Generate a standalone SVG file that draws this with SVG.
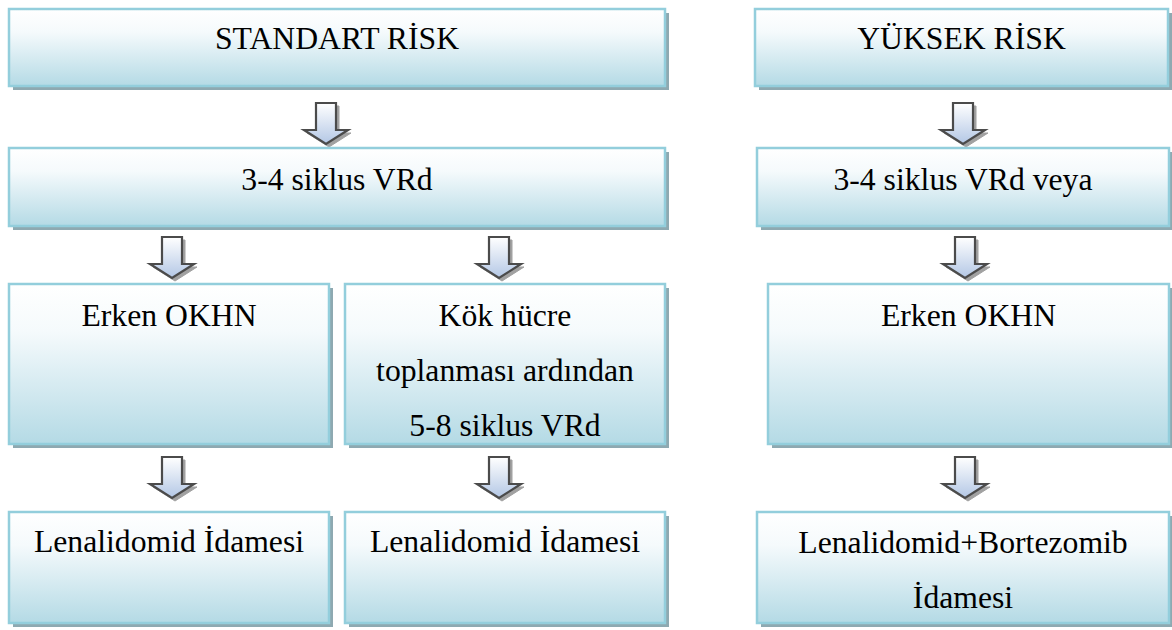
<svg xmlns="http://www.w3.org/2000/svg" xmlns:xlink="http://www.w3.org/1999/xlink" width="1172" height="630" viewBox="0 0 1172 630">
  <defs>
    <linearGradient id="boxGrad" x1="0" y1="0" x2="0" y2="1">
      <stop offset="0" stop-color="#ffffff"/>
      <stop offset="0.3" stop-color="#f5fafc"/>
      <stop offset="1" stop-color="#b4dae5"/>
    </linearGradient>
    <linearGradient id="arrowGrad" x1="0" y1="0" x2="0" y2="1">
      <stop offset="0" stop-color="#ffffff"/>
      <stop offset="1" stop-color="#b3c7e5"/>
    </linearGradient>
    <path id="arrowShape" d="M -10 0 L 10 0 L 10 27 L 22 27 L 0 41 L -22 27 L -10 27 Z"/>
    <g id="arrow">
      <use xlink:href="#arrowShape" transform="translate(3,3)" fill="#8a8a8a" stroke="#8a8a8a" stroke-width="1" opacity="0.8"/>
      <use xlink:href="#arrowShape" fill="url(#arrowGrad)" stroke="#4b4b4b" stroke-width="2.2" stroke-linejoin="miter"/>
    </g>
  </defs>
  <style>
    .shadow { fill: #8ea9b1; }
    .box { fill: url(#boxGrad); stroke: #93cedc; stroke-width: 2.5; }
    .label { font-size: 31.7px; fill: #000000; text-anchor: middle; }
  </style>

  <g id="connectors">
    <use xlink:href="#arrow" transform="translate(326,103)"/>
    <use xlink:href="#arrow" transform="translate(172,237)"/>
    <use xlink:href="#arrow" transform="translate(499,237)"/>
    <use xlink:href="#arrow" transform="translate(172,457)"/>
    <use xlink:href="#arrow" transform="translate(499,457)"/>
    <use xlink:href="#arrow" transform="translate(963,103)"/>
    <use xlink:href="#arrow" transform="translate(965,237)"/>
    <use xlink:href="#arrow" transform="translate(965,457)"/>
  </g>

  <g id="nodes" font-family="'Liberation Serif', serif">
  <g id="standart-risk">
    <rect class="shadow" x="13" y="13" width="656" height="77"/>
    <rect class="box" x="9" y="9" width="656" height="77"/>
    <text class="label" x="337" y="49">STANDART RİSK</text>
  </g>

  <g id="yuksek-risk">
    <rect class="shadow" x="759" y="13" width="413" height="77"/>
    <rect class="box" x="755" y="9" width="413" height="77"/>
    <text class="label" x="961.5" y="49">YÜKSEK RİSK</text>
  </g>

  <g id="vrd-standart">
    <rect class="shadow" x="13" y="152" width="656" height="78"/>
    <rect class="box" x="9" y="148" width="656" height="78"/>
    <text class="label" x="337" y="190">3-4 siklus VRd</text>
  </g>

  <g id="vrd-yuksek">
    <rect class="shadow" x="761" y="152" width="412" height="78"/>
    <rect class="box" x="757" y="148" width="412" height="78"/>
    <text class="label" x="963" y="190">3-4 siklus VRd veya</text>
  </g>

  <g id="erken-okhn-standart">
    <rect class="shadow" x="13" y="288" width="320" height="160"/>
    <rect class="box" x="9" y="284" width="320" height="160"/>
    <text class="label" x="169" y="326">Erken OKHN</text>
  </g>

  <g id="kok-hucre">
    <rect class="shadow" x="349" y="288" width="320" height="160"/>
    <rect class="box" x="345" y="284" width="320" height="160"/>
    <text class="label" x="505" y="326">Kök hücre</text>
    <text class="label" x="505" y="381">toplanması ardından</text>
    <text class="label" x="505" y="436">5-8 siklus VRd</text>
  </g>

  <g id="erken-okhn-yuksek">
    <rect class="shadow" x="772" y="288" width="401" height="160"/>
    <rect class="box" x="768" y="284" width="401" height="160"/>
    <text class="label" x="968.5" y="326">Erken OKHN</text>
  </g>

  <g id="lenalidomid-1">
    <rect class="shadow" x="13" y="516" width="320" height="111"/>
    <rect class="box" x="9" y="512" width="320" height="111"/>
    <text class="label" x="169" y="552">Lenalidomid İdamesi</text>
  </g>

  <g id="lenalidomid-2">
    <rect class="shadow" x="349" y="516" width="320" height="111"/>
    <rect class="box" x="345" y="512" width="320" height="111"/>
    <text class="label" x="505" y="552">Lenalidomid İdamesi</text>
  </g>

  <g id="lenalidomid-bortezomib">
    <rect class="shadow" x="761" y="516" width="412" height="111"/>
    <rect class="box" x="757" y="512" width="412" height="111"/>
    <text class="label" x="963" y="553">Lenalidomid+Bortezomib</text>
    <text class="label" x="963" y="608">İdamesi</text>
  </g>
  </g>
</svg>
